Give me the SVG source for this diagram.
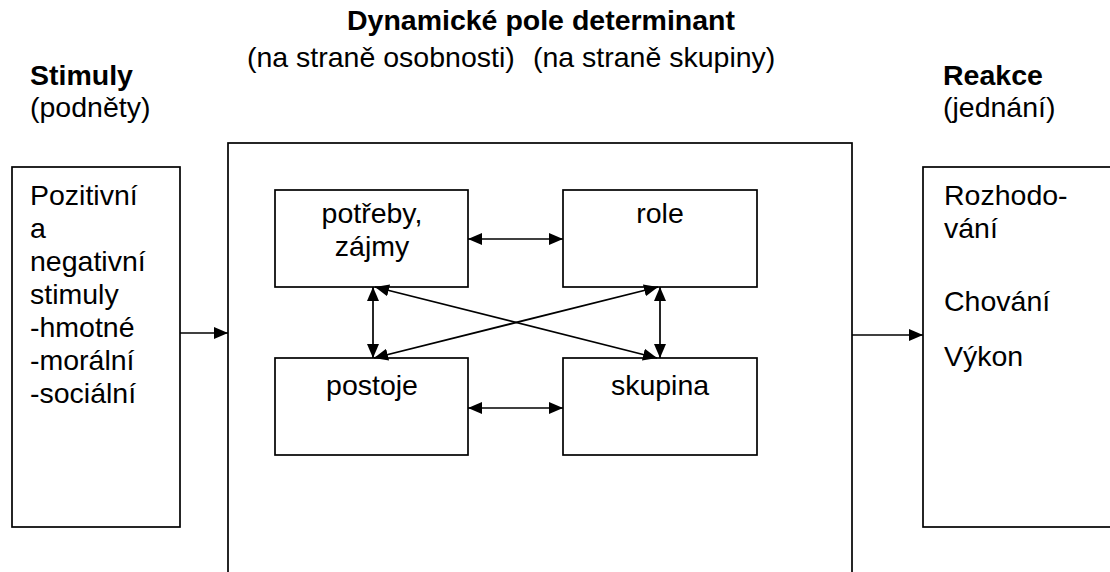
<svg xmlns="http://www.w3.org/2000/svg" width="1110" height="572" viewBox="0 0 1110 572">
<defs>
<style>
text{font-family:"Liberation Sans",Arial,sans-serif;font-size:28.5px;fill:#000}
.b{font-weight:bold}
.m{text-anchor:middle}
.box{fill:#fff;stroke:#000;stroke-width:1.7}
.ln{stroke:#000;stroke-width:1.7;fill:none}
</style>
<marker id="ah" markerUnits="userSpaceOnUse" markerWidth="16" markerHeight="12" refX="14" refY="6" orient="auto-start-reverse">
<path d="M0,0 L14,6 L0,12 Z" fill="#000"/>
</marker>
</defs>
<rect width="1110" height="572" fill="#fff"/>
<g id="headers">
<text class="b m" x="541" y="30">Dynamické pole determinant</text>
<text x="247" y="67">(na straně osobnosti)</text>
<text x="533" y="67">(na straně skupiny)</text>
<text class="b" x="30" y="85">Stimuly</text>
<text x="30" y="117">(podněty)</text>
<text class="b" x="943" y="85">Reakce</text>
<text x="943" y="117">(jednání)</text>
</g>
<g id="stimuly">
<rect class="box" x="12" y="167" width="168" height="360"/>
<text x="30" y="205">Pozitivní</text>
<text x="30" y="238">a</text>
<text x="30" y="271">negativní</text>
<text x="30" y="304">stimuly</text>
<text x="30" y="337">-hmotné</text>
<text x="30" y="370">-morální</text>
<text x="30" y="403">-sociální</text>
</g>
<g id="pole">
<rect class="box" x="228" y="143" width="624" height="445"/>
</g>
<g id="reakce">
<rect class="box" x="923" y="167" width="200" height="360"/>
<text x="944" y="205">Rozhodo-</text>
<text x="944" y="238">vání</text>
<text x="944" y="311">Chování</text>
<text x="944" y="366">Výkon</text>
</g>
<g id="potreby">
<rect class="box" x="275" y="190" width="193" height="97"/>
<text class="m" x="372" y="223">potřeby,</text>
<text class="m" x="372" y="256">zájmy</text>
</g>
<g id="role">
<rect class="box" x="563" y="190" width="194" height="97"/>
<text class="m" x="660" y="223">role</text>
</g>
<g id="postoje">
<rect class="box" x="275" y="358" width="193" height="97"/>
<text class="m" x="372" y="395">postoje</text>
</g>
<g id="skupina">
<rect class="box" x="563" y="358" width="194" height="97"/>
<text class="m" x="660" y="395">skupina</text>
</g>
<g id="connectors">
<line class="ln" x1="180" y1="333" x2="228" y2="333" marker-end="url(#ah)"/>
<line class="ln" x1="852" y1="335" x2="923" y2="335" marker-end="url(#ah)"/>
<line class="ln" x1="468" y1="239" x2="563" y2="239" marker-start="url(#ah)" marker-end="url(#ah)"/>
<line class="ln" x1="468" y1="408" x2="563" y2="408" marker-start="url(#ah)" marker-end="url(#ah)"/>
<line class="ln" x1="373" y1="287" x2="373" y2="358" marker-start="url(#ah)" marker-end="url(#ah)"/>
<line class="ln" x1="660" y1="287" x2="660" y2="358" marker-start="url(#ah)" marker-end="url(#ah)"/>
<line class="ln" x1="375" y1="287" x2="657" y2="358" marker-start="url(#ah)" marker-end="url(#ah)"/>
<line class="ln" x1="658" y1="287" x2="374" y2="358" marker-start="url(#ah)" marker-end="url(#ah)"/>
</g>
</svg>
